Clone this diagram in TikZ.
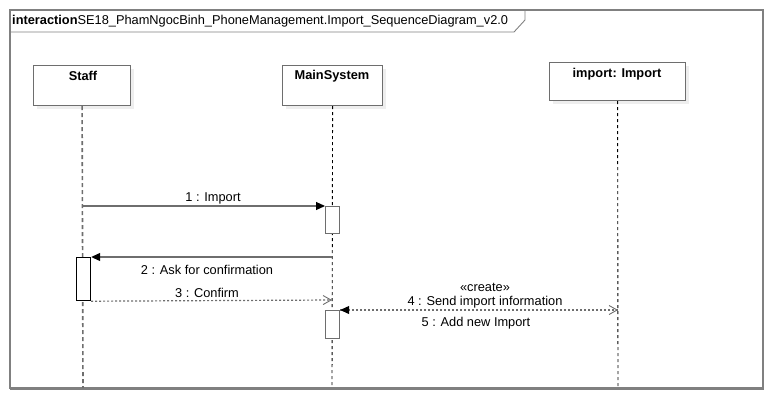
\documentclass[tikz,border=0pt]{standalone}
\usepackage{fontspec}
\setmainfont{Liberation Sans}
\usetikzlibrary{arrows.meta}
\definecolor{frm}{HTML}{808080}
\definecolor{shd}{HTML}{EEEEEE}
\definecolor{ln}{HTML}{6E6E6E}
\tikzset{
  obj/.style={draw=ln, line width=1.2pt, fill=white, minimum width=#1, minimum height=40pt, inner sep=0pt},
  lbl/.style={font=\fontsize{12.8}{15}\selectfont, inner sep=0pt},
  blbl/.style={font=\fontsize{12.8}{15}\selectfont\bfseries, inner sep=0pt},
  life/.style={dash pattern=on 3pt off 3pt, line width=0.9pt},
  act/.style={draw=ln, line width=1.2pt, fill=white, minimum width=14pt, inner sep=0pt},
  syncmsg/.style={draw=ln, line width=1.2pt, -{Triangle[length=9pt,width=8pt,color=black]}},
  retmsg/.style={draw=ln, line width=1.2pt, dash pattern=on 2pt off 2pt, -{Straight Barb[length=8pt,width=9pt,line width=0.9pt]}},
}
\begin{document}
\begin{tikzpicture}[x=1pt,y=-1pt]
\useasboundingbox (0,0) rectangle (768,400);
% frame
\draw[frm, line width=1.2pt] (10,10) rectangle (763,388);
\draw[frm, line width=2pt] (10,388.5) -- (764,388.5);
\draw[frm, line width=0.9pt] (10,32) -- (514,32) -- (525,20) -- (525,10);
\node[lbl, anchor=west] (title) at (12,21) {\textbf{interaction}SE18\_PhamNgocBinh\_PhoneManagement.Import\_SequenceDiagram\_v2.0};
% shadows
\fill[shd] (37,69) rectangle (134,109);
\fill[shd] (286,69) rectangle (386,109);
\fill[shd] (553,66) rectangle (689,104);
% objects
\node[obj=97pt, anchor=north west, minimum height=40pt] (staff) at (33,65) {};
\node[blbl] (staffl) at (83,76) {Staff};
\node[obj=100pt, anchor=north west, minimum height=40pt] (main) at (282,65) {};
\node[blbl] (mainl) at (332,76) {MainSystem};
\node[obj=136pt, anchor=north west, minimum height=38pt] (imp) at (549,62) {};
\node[blbl] (impl) at (617,74) {import: Import};
% lifeline ends
\coordinate (staffend) at (83,388);
\coordinate (mainend) at (332,386);
\coordinate (impend) at (618,386);
\draw[life, ln, line width=1.6pt, dash pattern=on 4pt off 3pt] (staff.south) -- (staffend);
\draw[life] (main.south) -- (mainend);
\draw[life] (imp.south) -- (impend);
% activations
\node[act, anchor=north west, minimum height=27pt] (a1) at (325,206) {};
\node[act, anchor=north west, minimum height=43pt, draw=black] (a2) at (76,257) {};
\node[act, anchor=north west, minimum height=28pt] (a3) at (325,310) {};
% messages
\coordinate (s1) at (83,206);
\draw[syncmsg] (s1) -- (a1.north west);
\node[lbl] (m1) at (213,198) {1 : Import};
\coordinate (s2) at (332,257);
\draw[syncmsg] (s2) -- (a2.north east);
\node[lbl] (m2) at (207,270) {2 : Ask for confirmation};
\coordinate (e3) at (332,300);
\draw[retmsg] (a2.south east) -- (e3);
\node[lbl] (m3) at (207,293) {3 : Confirm};
\coordinate (e4) at (618,310);
\draw[retmsg] (a3.north east) -- (e4);
\draw[syncmsg, dash pattern=on 2pt off 2pt, draw=ln] (e4) -- (a3.north east);
\node[lbl] (m4a) at (485,287) {«create»};
\node[lbl] (m4) at (485,302) {4 : Send import information};
\node[lbl] (m5) at (476,323) {5 : Add new Import};
\end{tikzpicture}
\end{document}
